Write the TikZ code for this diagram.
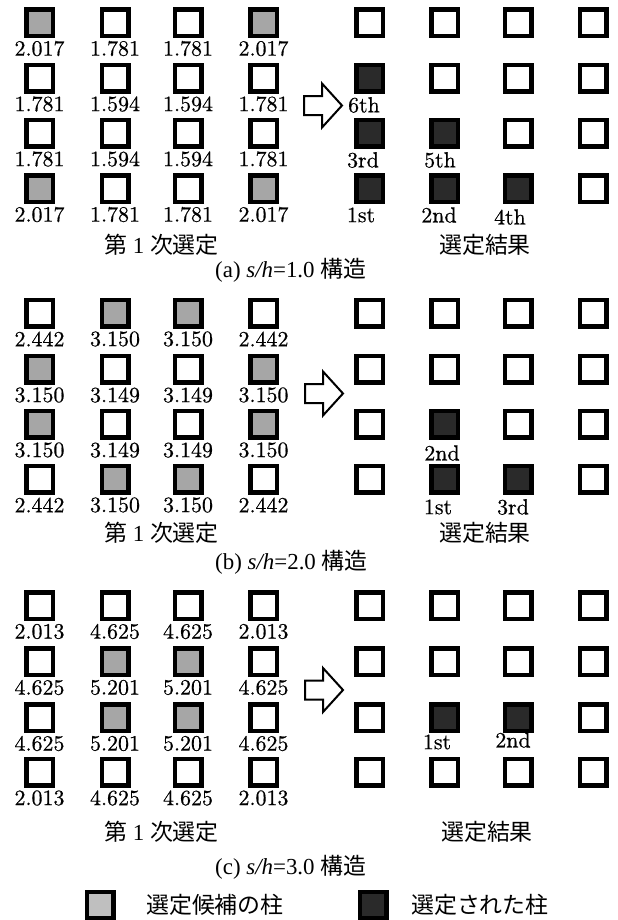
\documentclass[tikz,border=0pt]{standalone}
\usepackage{fontspec}
\setmainfont{Liberation Serif}
\newfontfamily\cjk{Noto Sans CJK JP}
\newfontfamily\tms{Liberation Serif}
\newfontfamily\numfont{lmroman10-regular.otf}[FakeBold=0.6]
\definecolor{candgray}{HTML}{A6A6A6}
\definecolor{selgray}{HTML}{2A2A2A}
\definecolor{leggray}{HTML}{BFBFBF}
\tikzset{
  colbox/.style={draw=black, line width=4.5bp, minimum size=26.5bp, inner sep=0pt, fill=white},
  wcol/.style={colbox},
  cand/.style={colbox, fill=candgray},
  sel/.style={colbox, fill=selgray},
  legc/.style={colbox, fill=leggray},
  val/.style={font=\numfont\fontsize{22}{22}\selectfont, inner sep=0pt},
  captxt/.style={font=\tms\fontsize{23}{23}\selectfont, inner sep=0pt, anchor=west},
  barrow/.style={draw=black, line width=2bp, fill=white, line join=miter}
}
\def\LX{{39.5,115,188,263.5}}
\def\RX{{369.5,444.5,518,593}}
\def\YA{{22.5,78,133,188.5}}
\def\YB{{313,369,424,479}}
\def\YC{{605.5,661.5,717.5,772}}
\newcommand\leftgrid[3]{%
  \foreach \r/\c/\s/\v in {#3} {
    \pgfmathsetmacro\xx{\LX[\c-1]}
    \pgfmathsetmacro\yy{#2[\r-1]}
    \node[\s] (#1L\r\c) at (\xx,\yy) {};
    \node[val] (#1V\r\c) at (\xx,\yy+26) {\v};
  }}
\newcommand\rightgrid[3]{%
  \foreach \r in {1,...,4} {
    \foreach \c in {1,...,4} {
      \pgfmathsetmacro\xx{\RX[\c-1]}
      \pgfmathsetmacro\yy{#2[\r-1]}
      \node[wcol] (#1R\r\c) at (\xx,\yy) {};
    }}
  \foreach \r/\c in {#3} {
    \node[sel] at (#1R\r\c) {};
  }}
\newcommand\blockarrow[2]{%
  \draw[barrow] (#1,#2) ++(0,-9.5) -- ++(18,0) -- ++(0,-12.5) -- ++(20,22) -- ++(-20,22) -- ++(0,-12.5) -- ++(-18,0) -- cycle;}
\begin{document}
\begin{tikzpicture}[x=1bp,y=-1bp]
\useasboundingbox (0,0) rectangle (618,920);
% ---------------- (a)
\leftgrid{a}{\YA}{1/1/cand/2.017,1/2/wcol/1.781,1/3/wcol/1.781,1/4/cand/2.017,
  2/1/wcol/1.781,2/2/wcol/1.594,2/3/wcol/1.594,2/4/wcol/1.781,
  3/1/wcol/1.781,3/2/wcol/1.594,3/3/wcol/1.594,3/4/wcol/1.781,
  4/1/cand/2.017,4/2/wcol/1.781,4/3/wcol/1.781,4/4/cand/2.017}
\rightgrid{a}{\YA}{2/1,3/1,3/2,4/1,4/2,4/3}
\node[val] (a6) at (364,105) {6th};
\node[val] (a3) at (363,160) {3rd};
\node[val] (a5) at (440,160) {5th};
\node[val] (a1) at (361,215) {1st};
\node[val] (a2) at (439,215) {2nd};
\node[val] (a4) at (510,217) {4th};
\blockarrow{304}{105.5}
\node[captxt] (acap1) at (104,245) {{\cjk 第} 1 {\cjk 次選定}};
\node[captxt] (acap2) at (439,245) {\cjk 選定結果};
\node[captxt] (atitle) at (215,270) {(a) \textit{s/h}=1.0 {\cjk 構造}};
% ---------------- (b)
\leftgrid{b}{\YB}{1/1/wcol/2.442,1/2/cand/3.150,1/3/cand/3.150,1/4/wcol/2.442,
  2/1/cand/3.150,2/2/wcol/3.149,2/3/wcol/3.149,2/4/cand/3.150,
  3/1/cand/3.150,3/2/wcol/3.149,3/3/wcol/3.149,3/4/cand/3.150,
  4/1/wcol/2.442,4/2/cand/3.150,4/3/cand/3.150,4/4/wcol/2.442}
\rightgrid{b}{\YB}{3/2,4/2,4/3}
\node[val] (b2) at (442,453) {2nd};
\node[val] (b1) at (438,507) {1st};
\node[val] (b3) at (513,507) {3rd};
\blockarrow{305}{393.5}
\node[captxt] (bcap1) at (104,533) {{\cjk 第} 1 {\cjk 次選定}};
\node[captxt] (bcap2) at (439,533) {\cjk 選定結果};
\node[captxt] (btitle) at (215,562) {(b) \textit{s/h}=2.0 {\cjk 構造}};
% ---------------- (c)
\leftgrid{c}{\YC}{1/1/wcol/2.013,1/2/wcol/4.625,1/3/wcol/4.625,1/4/wcol/2.013,
  2/1/wcol/4.625,2/2/cand/5.201,2/3/cand/5.201,2/4/wcol/4.625,
  3/1/wcol/4.625,3/2/cand/5.201,3/3/cand/5.201,3/4/wcol/4.625,
  4/1/wcol/2.013,4/2/wcol/4.625,4/3/wcol/4.625,4/4/wcol/2.013}
\rightgrid{c}{\YC}{3/2,3/3}
\node[val] (c1) at (437,742) {1st};
\node[val] (c2) at (513,740) {2nd};
\blockarrow{305}{690}
\node[captxt] (ccap1) at (104,832) {{\cjk 第} 1 {\cjk 次選定}};
\node[captxt] (ccap2) at (441,832) {\cjk 選定結果};
\node[captxt] (ctitle) at (215,867) {(c) \textit{s/h}=3.0 {\cjk 構造}};
% ---------------- legend
\node[legc] (leg1) at (100,905) {};
\node[captxt] (leg1t) at (146,905) {\cjk 選定候補の柱};
\node[sel] (leg2) at (373,905) {};
\node[captxt] (leg2t) at (411,905) {\cjk 選定された柱};
\end{tikzpicture}
\end{document}
